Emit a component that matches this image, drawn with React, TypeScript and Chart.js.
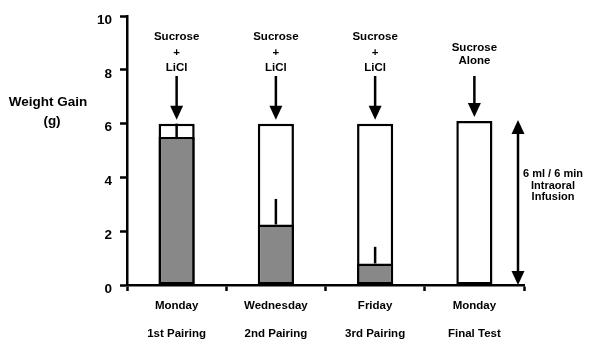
import React, { useEffect, useRef } from "react";
import { Chart, registerables } from "chart.js";

Chart.register(...registerables);

const dayLabels = ["Monday", "Wednesday", "Friday", "Monday"];
const pairingLabels = ["1st Pairing", "2nd Pairing", "3rd Pairing", "Final Test"];
const infusionValues = [6.0, 6.0, 6.0, 6.1];
const weightGainValues = [5.5, 2.25, 0.8, 0];
const errorTopValues = [6.0, 3.2, 1.42, 0];
const annotationLines = [
  ["Sucrose", "+", "LiCl"],
  ["Sucrose", "+", "LiCl"],
  ["Sucrose", "+", "LiCl"],
  ["Sucrose", "Alone"],
];
const yTicks = [0, 2, 4, 6, 8, 10];
const sideLabel = ["6 ml / 6 min", "Intraoral", "Infusion"];
const yTitle = ["Weight Gain", "(g)"];

const FONT = "'Liberation Sans', Arial, Helvetica, sans-serif";

function drawArrowDown(ctx: CanvasRenderingContext2D, x: number, y1: number, y2: number) {
  const hh = 14, hw = 6.5;
  ctx.beginPath();
  ctx.moveTo(x, y1);
  ctx.lineTo(x, y2 - hh + 1);
  ctx.stroke();
  ctx.beginPath();
  ctx.moveTo(x - hw, y2 - hh);
  ctx.lineTo(x + hw, y2 - hh);
  ctx.lineTo(x, y2);
  ctx.closePath();
  ctx.fill();
}

const overlayPlugin = {
  id: "overlay",
  afterDatasetsDraw(chart: any) {
    const ctx = chart.ctx as CanvasRenderingContext2D;
    const xs = chart.scales.x;
    const ys = chart.scales.y;
    const area = chart.chartArea;
    ctx.save();
    ctx.strokeStyle = "#000";
    ctx.fillStyle = "#000";
    ctx.lineWidth = 2.5;
    // error bars
    weightGainValues.forEach((v, i) => {
      const top = errorTopValues[i];
      if (top <= v) return;
      const x = xs.getPixelForValue(i);
      ctx.beginPath();
      ctx.moveTo(x, ys.getPixelForValue(v));
      ctx.lineTo(x, ys.getPixelForValue(top));
      ctx.stroke();
    });
    // annotations
    ctx.font = `bold 11.5px ${FONT}`;
    ctx.textAlign = "center";
    ctx.textBaseline = "middle";
    annotationLines.forEach((lines, i) => {
      const x = xs.getPixelForValue(i);
      const startY = lines.length === 3 ? 37 : 48;
      const step = lines.length === 3 ? 15.5 : 13;
      lines.forEach((t, j) => ctx.fillText(t, x, startY + j * step));
      drawArrowDown(ctx, x, 76, ys.getPixelForValue(infusionValues[i]) - 4);
    });
    // side double arrow
    const ax = area.right - 6;
    const topY = ys.getPixelForValue(6.1) - 1;
    const botY = ys.getPixelForValue(0);
    const hh = 14, hw = 6.5;
    ctx.beginPath();
    ctx.moveTo(ax, topY + hh - 1);
    ctx.lineTo(ax, botY - hh + 1);
    ctx.stroke();
    ctx.beginPath();
    ctx.moveTo(ax, topY);
    ctx.lineTo(ax - hw, topY + hh);
    ctx.lineTo(ax + hw, topY + hh);
    ctx.closePath();
    ctx.fill();
    ctx.beginPath();
    ctx.moveTo(ax, botY);
    ctx.lineTo(ax - hw, botY - hh);
    ctx.lineTo(ax + hw, botY - hh);
    ctx.closePath();
    ctx.fill();
    ctx.font = `bold 11px ${FONT}`;
    sideLabel.forEach((t, j) => ctx.fillText(t, area.right + 29, 174 + j * 11.5));
    // y title
    ctx.font = `bold 13.5px ${FONT}`;
    ctx.fillText(yTitle[0], 48, 102);
    ctx.fillText(yTitle[1], 52, 121);
    ctx.restore();
  },
};

export default function App() {
  const ref = useRef<HTMLCanvasElement>(null);
  useEffect(() => {
    if (!ref.current) return;
    const chart = new Chart(ref.current, {
      type: "bar",
      data: {
        labels: dayLabels.map((d, i) => [d, "", pairingLabels[i]]) as any,
        datasets: [
          {
            label: "Weight gain",
            data: weightGainValues,
            backgroundColor: "#888888",
            borderColor: "#000",
            borderWidth: 2.5,
            borderSkipped: false,
            barPercentage: 0.364,
            categoryPercentage: 1,
            order: 0,
          },
          {
            label: "Infusion",
            data: infusionValues,
            backgroundColor: "#ffffff",
            borderColor: "#000",
            borderWidth: 2.5,
            borderSkipped: false,
            barPercentage: 0.364,
            categoryPercentage: 1,
            order: 1,
          },
        ],
      },
      options: {
        animation: false,
        responsive: true,
        maintainAspectRatio: false,
        layout: { padding: { left: 0, right: 66, top: 15, bottom: 0 } },
        plugins: { legend: { display: false }, tooltip: { enabled: false } },
        scales: {
          x: {
            stacked: true,
            offset: true,
            grid: {
              offset: true,
              drawOnChartArea: false,
              drawTicks: true,
              tickLength: 6,
              tickWidth: 2.5,
              tickColor: "#000",
            },
            border: { display: true, color: "#000", width: 2.5 },
            ticks: {
              color: "#000",
              font: { family: FONT, size: 11.5, weight: "bold", lineHeight: 1.22 },
              padding: 8,
              maxRotation: 0,
              autoSkip: false,
            },
            afterFit: (s: any) => {
              s.height = 58;
            },
          },
          y: {
            stacked: false,
            min: 0,
            max: 10,
            afterBuildTicks: (s: any) => {
              s.ticks = yTicks.map((v) => ({ value: v }));
            },
            grid: {
              drawOnChartArea: false,
              drawTicks: true,
              tickLength: 7,
              tickWidth: 2.5,
              tickColor: "#000",
            },
            border: { display: true, color: "#000", width: 2.5 },
            ticks: {
              color: "#000",
              font: { family: FONT, size: 13.5, weight: "bold" },
              padding: 8,
              labelOffset: 4,
            },
            afterFit: (s: any) => {
              s.width = 127;
            },
          },
        },
      },
      plugins: [overlayPlugin],
    });
    return () => chart.destroy();
  }, []);
  return (
    <div style={{ position: "fixed", left: 0, top: 0, width: 590, height: 343 }}>
      <canvas ref={ref} />
    </div>
  );
}
